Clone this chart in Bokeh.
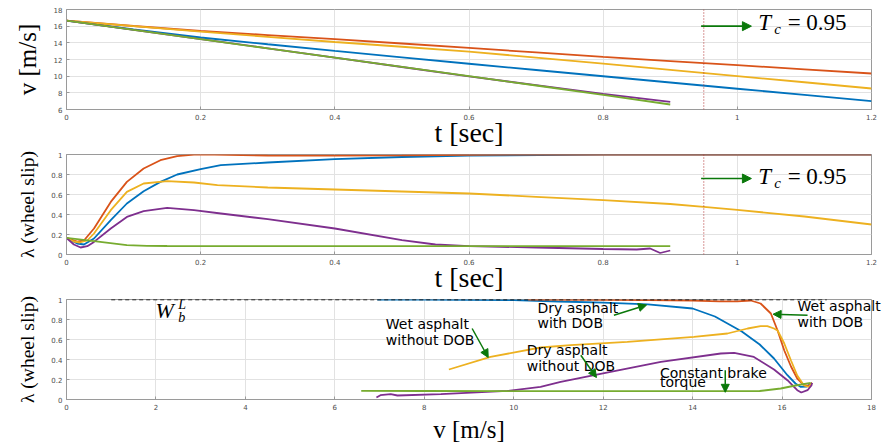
from bokeh.plotting import figure
from bokeh.layouts import column
from bokeh.models import (FixedTicker, CustomJSTickFormatter, Label, Arrow, NormalHead,
                          Span, LinearAxis)
from bokeh.embed import file_html
from bokeh.resources import INLINE

# ---------------- data ----------------
# Panel 1: speed v [m/s] versus time t [sec]
t_long = [0, 0.1, 0.2, 0.3, 0.4, 0.5, 0.6, 0.7, 0.8, 0.9, 1.0, 1.1, 1.2]
t_short = [0, 0.1, 0.2, 0.3, 0.4, 0.5, 0.6, 0.7, 0.8, 0.9]
v_dry_dob = [16.67, 15.6, 14.64, 13.83, 13.03, 12.25, 11.49, 10.74, 9.99, 9.24, 8.49, 7.75, 7.0]
v_wet_dob = [16.67, 16.02, 15.42, 14.93, 14.44, 13.92, 13.39, 12.85, 12.31, 11.81, 11.32, 10.82, 10.32]
v_wet_nodob = [16.67, 16.0, 15.35, 14.72, 14.1, 13.53, 12.95, 12.23, 11.5, 10.75, 10.0, 9.27, 8.52]
v_dry_nodob = [16.67, 15.56, 14.45, 13.34, 12.22, 11.1, 9.98, 8.92, 7.87, 6.91]
v_const = [16.67, 15.55, 14.44, 13.33, 12.22, 11.11, 10.0, 8.88, 7.76, 6.6]

# Panel 2: wheel slip versus time
t_lam_dry_dob = [0, 0.016, 0.026, 0.041, 0.066, 0.09, 0.115, 0.14, 0.165, 0.2, 0.23, 0.3, 0.4, 0.5, 0.6, 0.8, 1.0, 1.2]
lam_dry_dob = [0.166, 0.11, 0.1, 0.16, 0.343, 0.51, 0.633, 0.726, 0.8, 0.853, 0.893, 0.92, 0.953, 0.975, 0.99, 0.998, 1.0, 1.0]
t_lam_wet_dob = [0, 0.016, 0.026, 0.041, 0.066, 0.09, 0.115, 0.14, 0.165, 0.19, 0.22, 0.3, 0.4, 0.5, 0.6, 0.8, 1.0, 1.2]
lam_wet_dob = [0.166, 0.128, 0.14, 0.26, 0.526, 0.726, 0.86, 0.943, 0.983, 0.998, 1.0, 0.99, 0.988, 0.992, 0.997, 1.0, 1.0, 1.0]
t_lam_wet_nodob = [0, 0.011, 0.02, 0.031, 0.041, 0.066, 0.09, 0.115, 0.15, 0.19, 0.225, 0.3, 0.4, 0.5, 0.6, 0.7, 0.8, 0.9, 0.95, 1.0, 1.1, 1.2]
lam_wet_nodob = [0.166, 0.13, 0.12, 0.14, 0.21, 0.443, 0.626, 0.71, 0.733, 0.72, 0.693, 0.67, 0.65, 0.63, 0.61, 0.577, 0.543, 0.505, 0.476, 0.446, 0.38, 0.30]
t_lam_dry_nodob = [0, 0.011, 0.021, 0.031, 0.041, 0.066, 0.09, 0.115, 0.15, 0.19, 0.23, 0.3, 0.4, 0.5, 0.55, 0.6, 0.7, 0.8, 0.85, 0.87, 0.885, 0.9]
lam_dry_nodob = [0.166, 0.1, 0.07, 0.083, 0.126, 0.26, 0.376, 0.433, 0.466, 0.443, 0.41, 0.353, 0.26, 0.143, 0.1, 0.083, 0.07, 0.055, 0.05, 0.06, 0.015, 0.04]
t_lam_const = [0, 0.041, 0.09, 0.12, 0.15, 0.3, 0.6, 0.9]
lam_const = [0.166, 0.133, 0.093, 0.087, 0.085, 0.083, 0.083, 0.083]

# Panel 3: wheel slip versus speed
vv_dry_dob = [6.95, 8, 10, 11, 12, 13, 14, 14.5, 14.85, 15.1, 15.5, 15.82, 16.12, 16.3, 16.42, 16.55, 16.67]
ll_dry_dob = [1.0, 0.998, 0.993, 0.98, 0.968, 0.952, 0.91, 0.83, 0.743, 0.68, 0.55, 0.41, 0.243, 0.16, 0.126, 0.13, 0.166]
vv_wet_dob = [10.32, 12, 13, 14, 14.6, 15.0, 15.3, 15.52, 15.75, 15.9, 16.05, 16.2, 16.34, 16.49, 16.6, 16.67]
ll_wet_dob = [1.0, 0.997, 0.993, 0.988, 0.982, 0.982, 0.99, 0.96, 0.86, 0.69, 0.49, 0.33, 0.21, 0.143, 0.135, 0.166]
vv_wet_nodob = [8.55, 9.48, 10.6, 11.27, 12.54, 14.03, 14.78, 15.23, 15.52, 15.67, 15.82, 15.9, 16.05, 16.2, 16.34, 16.49, 16.6, 16.67]
ll_wet_nodob = [0.30, 0.426, 0.52, 0.543, 0.576, 0.626, 0.66, 0.71, 0.733, 0.733, 0.71, 0.69, 0.56, 0.39, 0.24, 0.14, 0.125, 0.166]
vv_dry_nodob = [6.93, 7.02, 7.25, 7.4, 8.37, 9.86, 10.6, 11.05, 11.8, 13.29, 14.63, 14.93, 15.37, 15.82, 16.12, 16.34, 16.43, 16.57, 16.66, 16.67]
ll_dry_nodob = [0.02, 0.043, 0.053, 0.04, 0.053, 0.086, 0.126, 0.176, 0.243, 0.376, 0.46, 0.466, 0.426, 0.3, 0.193, 0.093, 0.07, 0.093, 0.143, 0.166]
vv_const = [6.59, 8, 10, 12, 14, 15.0, 15.5, 15.97, 16.3, 16.64]
ll_const = [0.086, 0.085, 0.084, 0.083, 0.083, 0.083, 0.085, 0.11, 0.14, 0.166]
limit_v = [1, 17]
limit_lam = [1, 1]

t_ticks = [0, 0.2, 0.4, 0.6, 0.8, 1.0, 1.2]
v_ticks = [6, 8, 10, 12, 14, 16, 18]
lam_ticks = [0, 0.2, 0.4, 0.6, 0.8, 1.0]
speed_ticks = [0, 2, 4, 6, 8, 10, 12, 14, 16, 18]
T_c = 0.95

# ---------------- style ----------------
BLUE = "#0072BD"; RED = "#D95319"; YEL = "#EDB120"; PUR = "#7E2F8E"; GRN = "#77AC30"
ARROW = "#0a780a"
SERIF = "Liberation Serif"
SANS = "DejaVu Sans"
LW = 1.8

fmt = CustomJSTickFormatter(code="return (Math.round(tick*100)/100).toString();")


def make_fig(xr, yr, xticks, yticks, xlabel, ylabel, xsize, ysize, top, bottom, xstand):
    p = figure(frame_width=805, frame_height=100, x_range=xr, y_range=yr,
               output_backend="svg", toolbar_location=None,
               min_border_left=66, min_border_right=13, min_border_top=top,
               min_border_bottom=bottom)
    p.xaxis.ticker = FixedTicker(ticks=xticks)
    p.yaxis.ticker = FixedTicker(ticks=yticks)
    p.xaxis.formatter = fmt
    p.yaxis.formatter = fmt
    p.axis.major_label_text_font = SANS
    p.axis.major_label_text_font_size = "7px"
    p.axis.major_label_text_color = "#4d4d4d"
    p.axis.major_tick_in = 3
    p.axis.major_tick_out = 0
    p.axis.minor_tick_line_color = None
    p.axis.axis_line_color = "#9a9a9a"
    p.axis.major_tick_line_color = "#9a9a9a"
    p.xaxis.major_label_standoff = 4
    p.yaxis.major_label_standoff = 4
    p.outline_line_color = "#9a9a9a"
    p.grid.grid_line_color = "#e2e2e2"
    p.xaxis.axis_label = xlabel
    p.yaxis.axis_label = ylabel
    p.axis.axis_label_text_font = SERIF
    p.axis.axis_label_text_font_style = "normal"
    p.axis.axis_label_text_color = "black"
    p.xaxis.axis_label_text_font_size = xsize
    p.yaxis.axis_label_text_font_size = ysize
    p.xaxis.axis_label_standoff = xstand
    p.yaxis.axis_label_standoff = 10
    return p


def lab(p, x, y, text, font, size, style="normal"):
    # y is the bottom of the text box
    p.add_layout(Label(x=x, y=y, text=text, text_font=font, text_font_size=size,
                       text_font_style=style, text_color="black",
                       text_baseline="bottom"))


def tc_marker(p, y_arrow, y_text, y_sub):
    p.add_layout(Span(location=T_c, dimension="height", line_color="#b03030",
                      line_dash="1 2", line_width=1))
    p.add_layout(Arrow(x_start=0.946, y_start=y_arrow, x_end=1.021, y_end=y_arrow,
                       line_color=ARROW, line_width=1.6,
                       end=NormalHead(size=9, fill_color=ARROW, line_color=ARROW)))
    lab(p, 1.031, y_text, "T", SERIF, "23px", "italic")
    lab(p, 1.055, y_sub, "c", SERIF, "15px", "italic")
    lab(p, 1.075, y_text, "= 0.95", SERIF, "23px")


# ---- panel 1 ----
p1 = make_fig((0, 1.2), (6, 18), t_ticks, v_ticks, "t [sec]", "v [m/s]",
              "28px", "25px", 9, 41, -6)
p1.line(t_long, v_dry_dob, line_color=BLUE, line_width=LW)
p1.line(t_long, v_wet_dob, line_color=RED, line_width=LW)
p1.line(t_long, v_wet_nodob, line_color=YEL, line_width=LW)
p1.line(t_short, v_dry_nodob, line_color=PUR, line_width=LW)
p1.line(t_short, v_const, line_color=GRN, line_width=LW)
tc_marker(p1, 16.0, 14.92, 14.65)

# ---- panel 2 ----
p2 = make_fig((0, 1.2), (0, 1), t_ticks, lam_ticks, "t [sec]", "λ (wheel slip)",
              "28px", "19.5px", 4, 41, -6)
p2.line(t_lam_dry_dob, lam_dry_dob, line_color=BLUE, line_width=LW)
p2.line(t_lam_wet_dob, lam_wet_dob, line_color=RED, line_width=LW)
p2.line(t_lam_wet_nodob, lam_wet_nodob, line_color=YEL, line_width=LW)
p2.line(t_lam_dry_nodob, lam_dry_nodob, line_color=PUR, line_width=LW)
p2.line(t_lam_const, lam_const, line_color=GRN, line_width=LW)
tc_marker(p2, 0.76, 0.66, 0.64)

# ---- panel 3 ----
p3 = make_fig((0, 18), (0, 1), speed_ticks, lam_ticks, "v [m/s]", "λ (wheel slip)",
              "25px", "19.5px", 4, 48, 3)
p3.line(vv_dry_dob, ll_dry_dob, line_color=BLUE, line_width=LW)
p3.line(vv_wet_dob, ll_wet_dob, line_color=RED, line_width=LW)
p3.line(vv_wet_nodob, ll_wet_nodob, line_color=YEL, line_width=LW)
p3.line(vv_dry_nodob, ll_dry_nodob, line_color=PUR, line_width=LW)
p3.line(vv_const, ll_const, line_color=GRN, line_width=LW)
p3.line(limit_v, limit_lam, line_color="black", line_width=1.6, line_dash="4 3")

# W_b^L label
lab(p3, 1.99, 0.765, "W", SERIF, "22px", "italic")
lab(p3, 2.5, 0.75, "b", SERIF, "14px", "italic")
lab(p3, 2.5, 0.88, "L", SERIF, "14px", "italic")

# text annotations (one label per line)
notes = [
    (7.14, 0.677, "Wet asphalt"), (7.14, 0.512, "without DOB"),
    (10.53, 0.837, "Dry asphalt"), (10.53, 0.683, "with DOB"),
    (10.29, 0.42, "Dry asphalt"), (10.29, 0.26, "without DOB"),
    (13.27, 0.187, "Constant brake"), (13.27, 0.092, "torque"),
]
for x, y, s in notes:
    lab(p3, x, y, s, SANS, "14px")

# the "Wet asphalt / with DOB" note runs past the right edge of the frame,
# so it is drawn as the labels of an unlined axis on the right side
note_axis = LinearAxis(ticker=FixedTicker(ticks=[0.931, 0.771]),
                       formatter=CustomJSTickFormatter(
                           code="return tick > 0.85 ? 'Wet asphalt' : 'with DOB';"),
                       axis_line_color=None, major_tick_line_color=None,
                       minor_tick_line_color=None, major_tick_out=0, major_tick_in=0,
                       major_label_standoff=-74, major_label_text_font=SANS,
                       major_label_text_font_size="14px",
                       major_label_text_color="black")
p3.add_layout(note_axis, "right")

arrows = [
    (9.07, 0.71, 9.43, 0.42),
    (12.24, 0.843, 12.97, 0.945),
    (16.57, 0.843, 15.8, 0.853),
    (11.5, 0.443, 11.85, 0.22),
    (14.73, 0.293, 14.73, 0.072),
]
for xs, ys, xe, ye in arrows:
    p3.add_layout(Arrow(x_start=xs, y_start=ys, x_end=xe, y_end=ye,
                        line_color=ARROW, line_width=1.5,
                        end=NormalHead(size=8, fill_color=ARROW, line_color=ARROW)))

layout = column(p1, p2, p3, spacing=0)
open("out.html", "w").write(file_html(layout, INLINE))
